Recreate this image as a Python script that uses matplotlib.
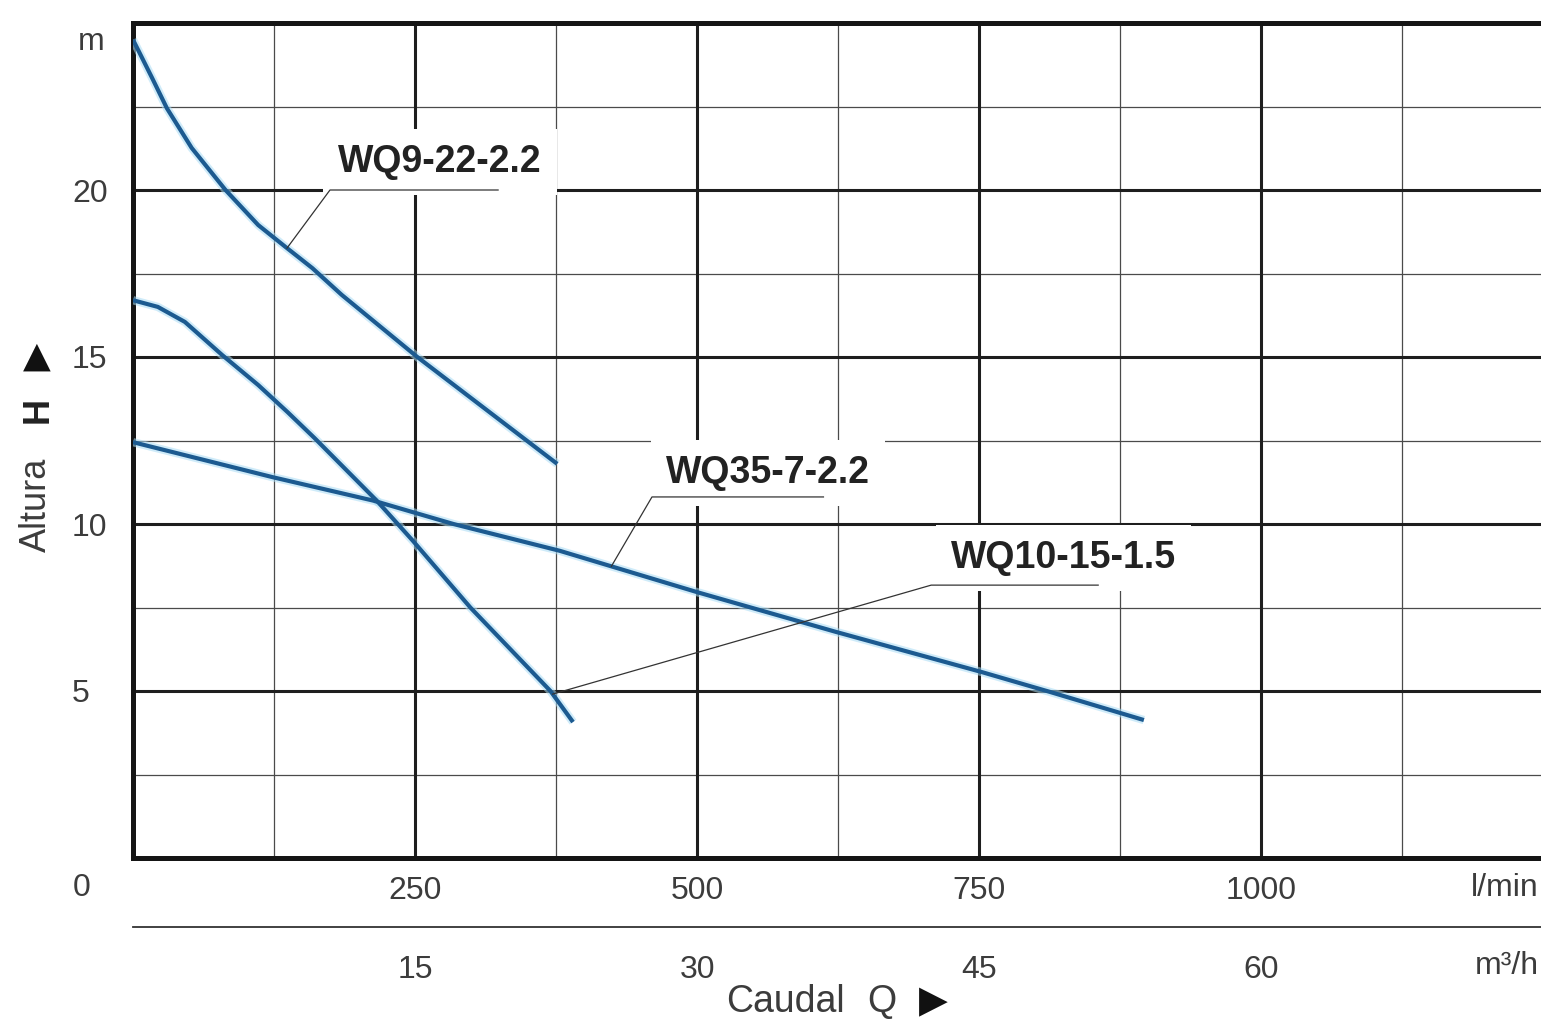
import numpy as np
import matplotlib
matplotlib.use("Agg")
import matplotlib.pyplot as plt

plt.rcParams['font.family'] = ['Liberation Sans', 'DejaVu Sans']

# ---------------- data (Q in l/min, H in m) ----------------
wq9_q = [0, 17, 30, 52, 82, 111, 135, 159, 185, 252, 314, 376]
wq9_h = [24.5, 23.35, 22.45, 21.26, 20.0, 18.95, 18.3, 17.66, 16.86, 15.0, 13.4, 11.8]

wq10_q = [0, 22, 46, 79, 111, 137, 161, 216, 248, 299, 370, 390]
wq10_h = [16.7, 16.5, 16.05, 15.06, 14.16, 13.35, 12.57, 10.7, 9.5, 7.5, 5.0, 4.07]

wq35_q = [0, 124, 213, 284, 378, 501, 623, 752, 813, 896]
wq35_h = [12.45, 11.4, 10.7, 10.0, 9.2, 7.95, 6.77, 5.57, 4.97, 4.13]

x_ticks = [250, 500, 750, 1000]
x_tick_labels = ['250', '500', '750', '1000']
m3h_ticks = [15, 30, 45, 60]
m3h_tick_labels = ['15', '30', '45', '60']
y_ticks = [5, 10, 15, 20]
y_tick_labels = ['5', '10', '15', '20']

W, H = 1541, 1019
fig = plt.figure(figsize=(W / 100, H / 100), dpi=100)

def fx(px):
    return px / W

def fy(py):
    return 1 - py / H

ax = fig.add_axes([fx(133), fy(858), 1 - fx(133), (858 - 23) / H])
ax.set_xlim(0, 1248)
ax.set_ylim(0, 25)

# grid
for q in [125, 375, 625, 875, 1125]:
    ax.axvline(q, color='#4a4a4a', lw=0.9, zorder=1)
for h in [2.5, 7.5, 12.5, 17.5, 22.5]:
    ax.axhline(h, color='#4a4a4a', lw=0.9, zorder=1)
for q in x_ticks:
    ax.axvline(q, color='#1e1e1e', lw=2.2, zorder=1)
for h in y_ticks:
    ax.axhline(h, color='#1e1e1e', lw=2.2, zorder=1)

for s in ['left', 'top', 'bottom']:
    ax.spines[s].set_linewidth(3.6)
    ax.spines[s].set_color('#151515')
ax.spines['right'].set_visible(False)

tc = '#3c3c3c'
ax.set_xticks(x_ticks)
ax.set_xticklabels(x_tick_labels)
ax.set_yticks(y_ticks)
ax.set_yticklabels(y_tick_labels, ha='left')
ax.tick_params(axis='both', length=0, labelsize=23, labelcolor=tc)
ax.tick_params(axis='x', pad=13)
ax.tick_params(axis='y', pad=44)

# curves
curve_color = '#1c5a90'
for q, h in [(wq9_q, wq9_h), (wq10_q, wq10_h), (wq35_q, wq35_h)]:
    ax.plot(q, h, color='#a8dcf5', lw=6.0, alpha=0.55, zorder=3,
            solid_capstyle='butt', solid_joinstyle='round')
    ax.plot(q, h, color=curve_color, lw=3.0, zorder=4,
            solid_capstyle='butt', solid_joinstyle='round')

# labels with leader lines
labels = [
    # text, text pos, elbow, underline end, anchor Q, curve
    ('WQ9-22-2.2', (272, 20.85), (174.6, 20.0), 323.6, 136.5, (wq9_q, wq9_h)),
    ('WQ35-7-2.2', (563, 11.53), (460, 10.81), 612, 424, (wq35_q, wq35_h)),
    ('WQ10-15-1.5', (825, 8.98), (707.5, 8.17), 855.5, 372, (wq10_q, wq10_h)),
]
for txt, tpos, elbow, uend, aq, (cq, ch) in labels:
    ax.text(tpos[0], tpos[1], txt, fontsize=27, fontweight='bold', color='#222222',
            ha='center', va='center', zorder=5,
            bbox=dict(boxstyle='square,pad=0.4', facecolor='white', edgecolor='none'))
    ah = float(np.interp(aq, cq, ch))
    ax.plot([aq, elbow[0], uend], [ah, elbow[1], elbow[1]],
            color='#333333', lw=0.9, zorder=6)

# secondary axis in m3/h
sec = ax.secondary_xaxis(-(927 - 858) / (858 - 23),
                         functions=(lambda q: q * 0.06, lambda m: m / 0.06))
sec.set_xticks(m3h_ticks)
sec.set_xticklabels(m3h_tick_labels)
sec.tick_params(length=0, labelsize=23, labelcolor=tc, pad=20)
sec.spines['bottom'].set_color('#333333')
sec.spines['bottom'].set_linewidth(1.3)

# unit and axis texts
fig.text(fx(78), fy(42), 'm', fontsize=23, color=tc, ha='left', va='center')
fig.text(fx(73), fy(888), '0', fontsize=23, color=tc, ha='left', va='center')
fig.text(fx(1539), fy(888), 'l/min', fontsize=23, color=tc, ha='right', va='center')
fig.text(fx(1539), fy(966), 'm³/h', fontsize=23, color=tc, ha='right', va='center')
fig.text(fx(785), fy(1002), 'Caudal', fontsize=27, color=tc, ha='center', va='center')
fig.text(fx(882), fy(1002), 'Q', fontsize=27, color=tc, ha='center', va='center')
fig.text(fx(933), fy(1002), '▶', fontsize=27, color='#111111', ha='center', va='center',
         family=['DejaVu Sans'])
fig.text(fx(36), fy(505), 'Altura', fontsize=26, color=tc, rotation=90, ha='center', va='center')
fig.text(fx(38), fy(410), 'H', fontsize=26, fontweight='bold', color='#222222', rotation=90,
         ha='center', va='center')
fig.text(fx(37), fy(357), '▲', fontsize=26, color='#111111', rotation=0, ha='center',
         va='center', family=['DejaVu Sans'])

fig.savefig('out.png', dpi=100)
